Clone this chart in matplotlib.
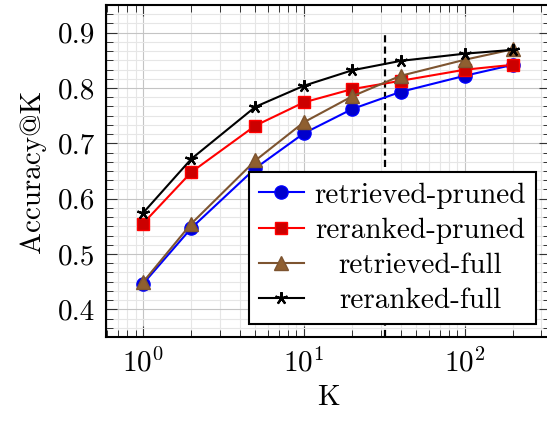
import numpy as np
import matplotlib
matplotlib.use("Agg")
import matplotlib.pyplot as plt
from matplotlib.transforms import Affine2D
from matplotlib.ticker import FixedLocator, LogLocator, NullFormatter

plt.rcParams['font.family'] = ['cmr10', 'DejaVu Serif']
plt.rcParams['mathtext.fontset'] = 'cm'
plt.rcParams['axes.formatter.use_mathtext'] = True

K = [1, 2, 5, 10, 20, 40, 100, 200]
retrieved_pruned = [0.446, 0.547, 0.655, 0.718, 0.762, 0.793, 0.822, 0.842]
reranked_pruned = [0.555, 0.648, 0.732, 0.774, 0.798, 0.813, 0.833, 0.842]
retrieved_full = [0.449, 0.555, 0.669, 0.738, 0.785, 0.822, 0.851, 0.870]
reranked_full = [0.574, 0.672, 0.766, 0.804, 0.832, 0.849, 0.862, 0.869]
labels = ["retrieved-pruned", "reranked-pruned", "retrieved-full", "reranked-full"]
y_ticks = [0.4, 0.5, 0.6, 0.7, 0.8, 0.9]
cut_k = 32

W, H = 547, 421
fig = plt.figure(figsize=(W / 100, H / 100), dpi=100)
ax = fig.add_axes([106 / W, 1 - 337 / H, (550 - 106) / W, (337 - 5) / H])

fs = 21
ax.plot(K, retrieved_pruned, color='#0000ff', lw=1.5, marker='o', ms=9.5,
        mfc='#0000cc', mec='#0000ff', label=labels[0], zorder=3)
ax.plot(K, reranked_pruned, color='#ff0000', lw=1.5, marker='s', ms=9,
        mfc='#cc0000', mec='#ff0000', label=labels[1], zorder=3)
ax.plot(K, retrieved_full, color='#7d5430', lw=1.5, marker='^', ms=9.5,
        mfc='#8f5f30', mec='#7d5430', label=labels[2], zorder=3)
ax.plot(K, reranked_full, color='black', lw=1.5, marker=(5, 2, 0), ms=9,
        mfc='black', mec='black', mew=1.6, label=labels[3], zorder=3)

ax.plot([cut_k, cut_k], [0.35, 0.9], color='black', lw=1.6, ls=(0, (3.2, 1.9)), zorder=2)

ax.set_xscale('log')
ax.set_xlim(10 ** -0.23, 10 ** 2.531)
ax.set_ylim(0.35, 0.95)
ax.set_yticks(y_ticks)
ax.set_yticklabels([f"{v:.1f}" for v in y_ticks])
ax.yaxis.set_minor_locator(FixedLocator(np.arange(0.35, 0.951, 0.1 / 6)))
ax.xaxis.set_minor_locator(LogLocator(base=10, subs=np.arange(2, 10)))
ax.xaxis.set_minor_formatter(NullFormatter())

ax.grid(True, which='major', color='#c4c4c4', lw=0.8)
ax.grid(True, which='minor', color='#e6e6e6', lw=0.8)
ax.set_axisbelow(True)

ax.tick_params(which='both', direction='in', top=True, right=True, color='#333333',
               labelsize=fs)
ax.tick_params(which='major', length=8, width=0.8, pad=8)
ax.tick_params(which='minor', length=5, width=0.7)
for s in ax.spines.values():
    s.set_linewidth(1.5)

ax.set_xlabel("K", fontsize=fs, labelpad=5)
ax.set_ylabel("Accuracy@K", fontsize=fs, labelpad=8)

leg = ax.legend(loc='lower right', bbox_to_anchor=(0.9685, 0.038), fontsize=fs,
                frameon=True, fancybox=False, edgecolor='black', framealpha=1,
                handlelength=1.55, handletextpad=0.35, labelspacing=0.30,
                borderpad=0.35, borderaxespad=0.0)
leg.get_frame().set_linewidth(1.5)

fig.canvas.draw()
r = fig.canvas.get_renderer()
texts = leg.get_texts()
ws = [t.get_window_extent(r).width for t in texts]
mw = max(ws)
for t, w in zip(texts, ws):
    t.set_transform(t.get_transform() + Affine2D().translate((mw - w) / 2, 0))

fig.savefig("out.png", dpi=100)
